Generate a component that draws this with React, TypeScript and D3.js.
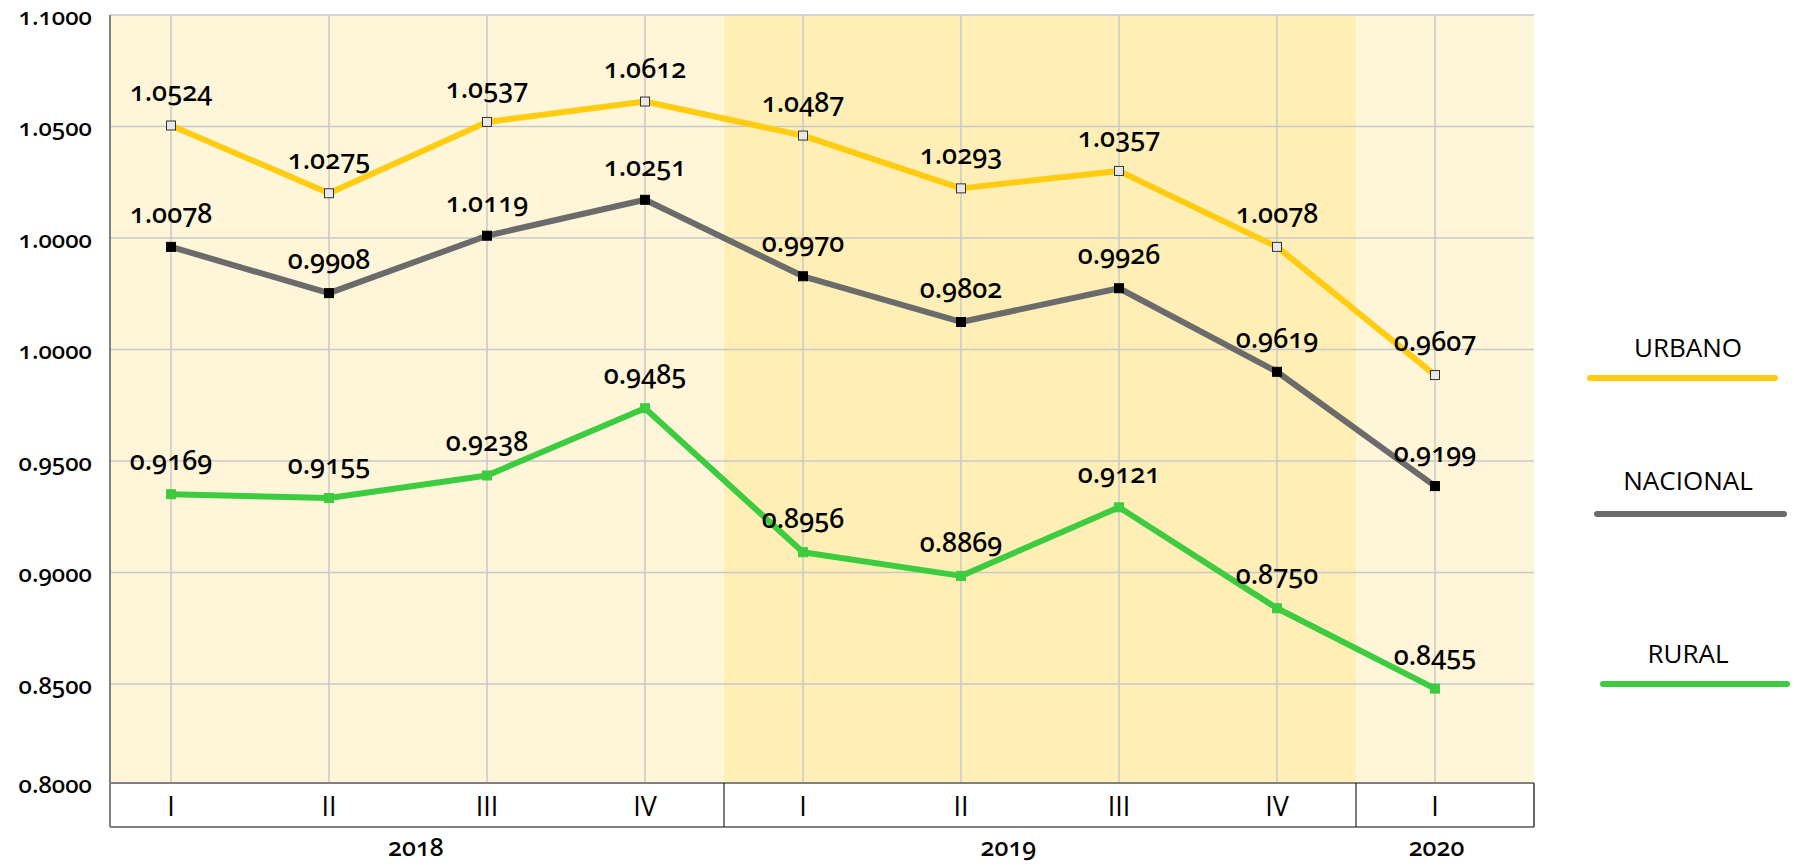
import { scaleLinear, line } from 'd3';

const quarters = ['I', 'II', 'III', 'IV', 'I', 'II', 'III', 'IV', 'I'];
const years = ['2018', '2019', '2020'];
// quarter index where each year label sits
const yearCenters = [1.55, 5.3, 8.01];
const tickLabels = ['1.1000', '1.0500', '1.0000', '1.0000', '0.9500', '0.9000', '0.8500', '0.8000'];

const urbano = [1.0524, 1.0275, 1.0537, 1.0612, 1.0487, 1.0293, 1.0357, 1.0078, 0.9607];
const nacional = [1.0078, 0.9908, 1.0119, 1.0251, 0.997, 0.9802, 0.9926, 0.9619, 0.9199];
const rural = [0.9169, 0.9155, 0.9238, 0.9485, 0.8956, 0.8869, 0.9121, 0.875, 0.8455];

const seriesNames = ['URBANO', 'NACIONAL', 'RURAL'];

const W = 1794;
const H = 867;
const plotLeft = 110;
const plotRight = 1534;
const plotTop = 15;
const plotBottom = 783;
const boxBottom = 827;
const gridStep = 111.5;

const FONT = '"Noto Sans", "Open Sans", sans-serif';
const SANS = '"Open Sans", "Noto Sans", sans-serif';
const numStyle = { fontVariantNumeric: 'oldstyle-nums' as const, fontFeatureSettings: '"onum"' };

const colors = {
  light: '#FFF6DA',
  dark: '#FFEFB6',
  grid: '#C8C8C8',
  urbano: '#FFCC12',
  nacional: '#6B6B6B',
  rural: '#3DCB3F',
};

export default function App() {
  const x = scaleLinear().domain([0, 8]).range([171, 1435]);
  const y = scaleLinear().domain([0.8108, 1.093]).range([plotBottom, plotTop]);
  const gridY = (i: number) => (i < tickLabels.length - 1 ? plotTop + i * gridStep : plotBottom);

  const path = line<number>()
    .x((_, i) => x(i))
    .y((d) => y(d));

  const series = [
    { name: seriesNames[0], values: urbano, color: colors.urbano, marker: '#E8E8E8', markerStroke: '#333' },
    { name: seriesNames[1], values: nacional, color: colors.nacional, marker: '#000', markerStroke: '#000' },
    { name: seriesNames[2], values: rural, color: colors.rural, marker: colors.rural, markerStroke: colors.rural },
  ];

  const split1 = x(3.5);
  const split2 = x(7.5);

  const legend = [
    { textY: 347, lineY: 378, x1: 1590, x2: 1775 },
    { textY: 480, lineY: 514, x1: 1597, x2: 1784 },
    { textY: 653, lineY: 684, x1: 1603, x2: 1787 },
  ];

  return (
    <svg
      width={W}
      height={H}
      style={{ position: 'absolute', left: 0, top: 0, background: '#fff' }}
      fontFamily={FONT}
    >
      {/* background bands */}
      <rect x={plotLeft} y={plotTop} width={split1 - plotLeft} height={plotBottom - plotTop} fill={colors.light} />
      <rect x={split1} y={plotTop} width={split2 - split1} height={plotBottom - plotTop} fill={colors.dark} />
      <rect x={split2} y={plotTop} width={plotRight - split2} height={plotBottom - plotTop} fill={colors.light} />

      {/* horizontal grid + tick labels */}
      {tickLabels.map((t, i) => (
        <g key={'t' + i}>
          {i < tickLabels.length - 1 && (
            <line x1={plotLeft} x2={plotRight} y1={gridY(i)} y2={gridY(i)} stroke={colors.grid} strokeWidth={1.5} />
          )}
          <text
            x={92}
            y={gridY(i)}
            textAnchor="end"
            dominantBaseline="central"
            fontSize={24}
            fontWeight={500}
            fill="#000"
            style={numStyle}
          >
            {t}
          </text>
        </g>
      ))}

      {/* vertical grid */}
      {quarters.map((_, i) => (
        <line key={'v' + i} x1={x(i)} x2={x(i)} y1={plotTop} y2={plotBottom} stroke={colors.grid} strokeWidth={1.5} />
      ))}

      {/* category box */}
      <line x1={plotLeft} x2={plotRight} y1={plotBottom} y2={plotBottom} stroke="#808080" strokeWidth={2} />
      <line x1={plotLeft} x2={plotRight} y1={boxBottom} y2={boxBottom} stroke="#808080" strokeWidth={2} />
      <line x1={plotRight} x2={plotRight} y1={plotBottom} y2={boxBottom} stroke="#333" strokeWidth={1.5} />
      <line x1={split1} x2={split1} y1={plotBottom} y2={boxBottom} stroke="#222" strokeWidth={1.2} />
      <line x1={split2} x2={split2} y1={plotBottom} y2={boxBottom} stroke="#222" strokeWidth={1.2} />
      <line x1={plotLeft} x2={plotLeft} y1={plotTop} y2={boxBottom} stroke="#808080" strokeWidth={2} />

      {quarters.map((q, i) => (
        <text
          key={'q' + i}
          x={x(i)}
          y={805}
          textAnchor="middle"
          dominantBaseline="central"
          fontFamily={SANS}
          fontSize={27}
          fill="#000"
        >
          {q}
        </text>
      ))}
      {years.map((yr, i) => (
        <text
          key={yr}
          x={x(yearCenters[i])}
          y={856}
          textAnchor="middle"
          fontSize={25}
          fontWeight={500}
          fill="#000"
          style={numStyle}
        >
          {yr}
        </text>
      ))}

      {/* series lines */}
      {series.map((s) => (
        <path key={s.name} d={path(s.values) ?? ''} fill="none" stroke={s.color} strokeWidth={6} strokeLinejoin="round" />
      ))}

      {/* markers */}
      {series.map((s) =>
        s.values.map((v, i) => (
          <rect
            key={s.name + i}
            x={x(i) - 4.5}
            y={y(v) - 4.5}
            width={9}
            height={9}
            fill={s.marker}
            stroke={s.markerStroke}
            strokeWidth={1}
          />
        ))
      )}

      {/* value labels */}
      {series.map((s) =>
        s.values.map((v, i) => (
          <text
            key={'l' + s.name + i}
            x={x(i)}
            y={y(v) - 24}
            textAnchor="middle"
            fontSize={27}
            fontWeight={500}
            fill="#000"
            style={numStyle}
          >
            {v.toFixed(4)}
          </text>
        ))
      )}

      {/* legend */}
      {series.map((s, i) => (
        <g key={'lg' + s.name}>
          <text
            x={1688}
            y={legend[i].textY}
            textAnchor="middle"
            dominantBaseline="central"
            fontFamily={SANS}
            fontSize={26}
            fill="#000"
          >
            {s.name}
          </text>
          <line
            x1={legend[i].x1}
            x2={legend[i].x2}
            y1={legend[i].lineY}
            y2={legend[i].lineY}
            stroke={s.color}
            strokeWidth={6}
            strokeLinecap="round"
          />
        </g>
      ))}
    </svg>
  );
}
